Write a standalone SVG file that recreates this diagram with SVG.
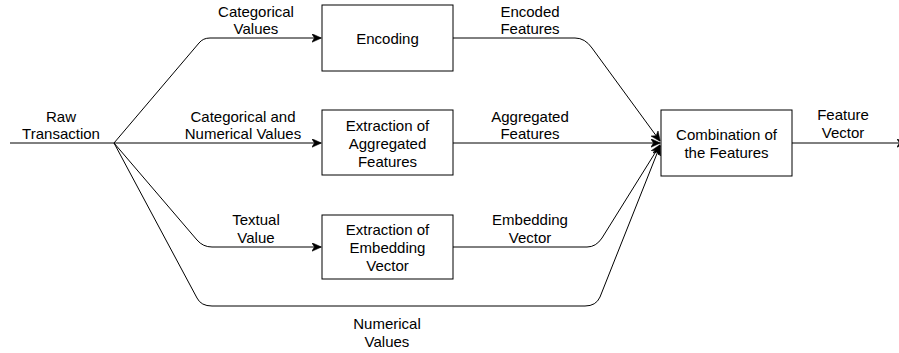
<svg xmlns="http://www.w3.org/2000/svg" width="899" height="353" viewBox="0 0 899 353">
<style>
.box{fill:#fff;stroke:#000;stroke-width:1}
.e{fill:none;stroke:#000;stroke-width:1}
text{font-family:"Liberation Sans",Arial,Helvetica,sans-serif;font-size:15px;fill:#000;text-anchor:middle}
</style>
<defs>
<marker id="arr" viewBox="0 0 10 9" refX="9.5" refY="4.5" markerWidth="10" markerHeight="9" markerUnits="userSpaceOnUse" orient="auto">
<path d="M0,0 L10,4.5 L0,9 L3,4.5 z" fill="#000" stroke="#000" stroke-width="0.5"/>
</marker>
</defs>
<g id="connectors">
<path class="e" d="M10,143 L114,143"/>
<path class="e" d="M114,143 L199,43 Q203,38 210,38 L321,38" marker-end="url(#arr)"/>
<path class="e" d="M114,143 L321,143" marker-end="url(#arr)"/>
<path class="e" d="M114,143 L197,240 Q203,247 212,247 L321,247" marker-end="url(#arr)"/>
<path class="e" d="M114,143 L197,298 Q201,306 212,306 L585,306 Q596,306 600,297 L660,146" marker-end="url(#arr)"/>
<path class="e" d="M453,38 L575,38 Q585,38 592,48 L660,141" marker-end="url(#arr)"/>
<path class="e" d="M453,143 L660,143" marker-end="url(#arr)"/>
<path class="e" d="M453,247 L587,247 Q596,247 602,238 L660,145" marker-end="url(#arr)"/>
<path class="e" d="M792,143 L906,143" marker-end="url(#arr)"/>
</g>
<g id="lbl-raw"><text x="61" y="122">Raw</text><text x="61" y="139">Transaction</text></g>
<g id="lbl-cat"><text x="256" y="17">Categorical</text><text x="256" y="34">Values</text></g>
<g id="lbl-catnum"><text x="243" y="122">Categorical and</text><text x="243" y="139">Numerical Values</text></g>
<g id="lbl-text"><text x="256" y="225">Textual</text><text x="256" y="243">Value</text></g>
<g id="lbl-num"><text x="387" y="329">Numerical</text><text x="387" y="347">Values</text></g>
<g id="lbl-enc"><text x="530" y="17">Encoded</text><text x="530" y="34">Features</text></g>
<g id="lbl-agg"><text x="530" y="122">Aggregated</text><text x="530" y="139">Features</text></g>
<g id="lbl-emb"><text x="530" y="225">Embedding</text><text x="530" y="243">Vector</text></g>
<g id="lbl-fv"><text x="843" y="120">Feature</text><text x="843" y="138">Vector</text></g>
<g id="encoding"><rect class="box" x="322" y="5" width="131" height="66"/><text x="387.5" y="44">Encoding</text></g>
<g id="aggregated"><rect class="box" x="322" y="110" width="131" height="65"/><text x="387.5" y="131">Extraction of</text><text x="387.5" y="149">Aggregated</text><text x="387.5" y="167">Features</text></g>
<g id="embedding"><rect class="box" x="322" y="215" width="131" height="64"/><text x="387.5" y="235">Extraction of</text><text x="387.5" y="253">Embedding</text><text x="387.5" y="271">Vector</text></g>
<g id="combination"><rect class="box" x="661" y="110" width="131" height="66"/><text x="726.5" y="140">Combination of</text><text x="726.5" y="158">the Features</text></g>
</svg>
